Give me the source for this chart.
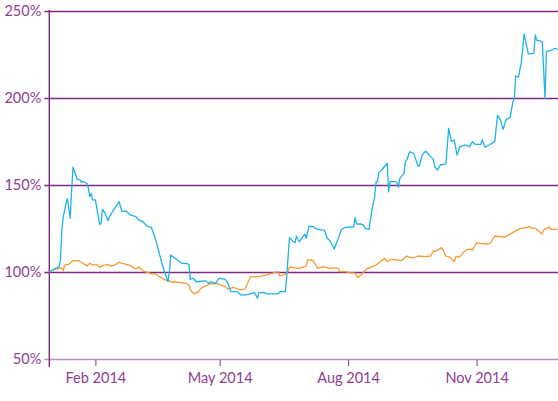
<!DOCTYPE html>
<html>
<head>
<meta charset="utf-8">
<script src="https://cdn.jsdelivr.net/npm/d3@7"></script>
<style>
  body { margin: 0; background: #fff; }
  #svg-container { width: 558px; height: 401px; }
  text { font-family: Lato, "Open Sans", sans-serif; }
</style>
</head>
<body>
<div id="svg-container"></div>
<script>
////////////////////////////////////////////////////////////////////
////////////////////////////  Data  ////////////////////////////////
const yTicks = [50, 100, 150, 200, 250];
const xTickDates = ["2014-02-01", "2014-05-01", "2014-08-01", "2014-11-01"];

// blue series
const blueDates = ["2013-12-30","2014-01-03","2014-01-06","2014-01-07","2014-01-08","2014-01-09","2014-01-11","2014-01-12","2014-01-14","2014-01-15","2014-01-16","2014-01-19","2014-01-21","2014-01-22","2014-01-23","2014-01-26","2014-01-27","2014-01-28","2014-01-29","2014-01-30","2014-02-01","2014-02-04","2014-02-05","2014-02-06","2014-02-08","2014-02-10","2014-02-11","2014-02-18","2014-02-20","2014-02-23","2014-02-26","2014-03-02","2014-03-04","2014-03-07","2014-03-10","2014-03-13","2014-03-16","2014-03-21","2014-03-23","2014-03-25","2014-03-26","2014-03-27","2014-03-30","2014-04-02","2014-04-04","2014-04-07","2014-04-09","2014-04-10","2014-04-12","2014-04-14","2014-04-21","2014-04-23","2014-04-25","2014-04-28","2014-04-30","2014-05-01","2014-05-05","2014-05-07","2014-05-09","2014-05-14","2014-05-16","2014-05-20","2014-05-26","2014-05-28","2014-05-29","2014-06-02","2014-06-04","2014-06-12","2014-06-13","2014-06-17","2014-06-18","2014-06-20","2014-06-22","2014-06-24","2014-06-25","2014-06-27","2014-07-01","2014-07-02","2014-07-04","2014-07-07","2014-07-10","2014-07-15","2014-07-17","2014-07-19","2014-07-22","2014-07-25","2014-07-27","2014-07-30","2014-08-05","2014-08-06","2014-08-07","2014-08-10","2014-08-12","2014-08-13","2014-08-16","2014-08-18","2014-08-20","2014-08-21","2014-08-22","2014-08-23","2014-08-25","2014-08-29","2014-08-30","2014-08-31","2014-09-04","2014-09-05","2014-09-06","2014-09-07","2014-09-10","2014-09-11","2014-09-12","2014-09-14","2014-09-17","2014-09-19","2014-09-20","2014-09-21","2014-09-23","2014-09-25","2014-09-26","2014-09-29","2014-10-01","2014-10-02","2014-10-04","2014-10-06","2014-10-10","2014-10-12","2014-10-14","2014-10-16","2014-10-18","2014-10-20","2014-10-24","2014-10-27","2014-10-29","2014-10-31","2014-11-04","2014-11-05","2014-11-07","2014-11-10","2014-11-14","2014-11-16","2014-11-18","2014-11-20","2014-11-22","2014-11-25","2014-11-27","2014-11-28","2014-11-29","2014-12-01","2014-12-03","2014-12-05","2014-12-08","2014-12-12","2014-12-13","2014-12-14","2014-12-18","2014-12-20","2014-12-21","2014-12-25","2014-12-27","2014-12-29"];
const blueValues = [100,101.9,102.9,106.9,124.1,131.8,139.5,142.1,130.9,147.1,160.2,153.3,152.9,151.6,152.1,151,148.1,143.3,145.2,141.4,141.4,127.6,127.6,136,133.7,129.5,131.8,140.4,134.7,135.1,132.8,131.8,129.9,128.9,126.4,125.7,119,104,99,94.4,100.2,109.8,107.9,106,105,105,104.4,95.8,96.4,94.4,94.9,93.5,94.4,93.5,95.8,96.4,95.8,93.5,88.7,88.7,86.8,86.8,88.1,84.9,88.1,88.1,87.4,87.4,88.7,88.7,97.3,119.9,118,116.8,120.7,117.4,121.8,119.4,126.4,126,124.5,124.1,119.4,118,113.2,119.4,124.1,125.7,126,131.2,127.6,127.6,127,125.1,124.5,135.6,143.3,151.9,151.9,157.1,158.6,162.5,146.1,151.9,151.9,151.3,148.7,153.8,156.7,163.4,164.4,169.1,168.2,163.4,160.9,160.9,167.2,169.1,169.1,166.3,164.8,160.5,158.6,161.5,162.1,182.6,174.9,175.9,167.2,172,173,172,174.9,173.4,173.4,175.9,171.7,173,174.9,190.2,187.4,182,187.4,188.9,197.9,199.3,212.6,212.2,220.3,236.8,225.3,225.7,236.2,233.3,232.4,199.8,226.6,227.6,228.6,228];

// orange series
const orangeDates = ["2013-12-30","2014-01-03","2014-01-08","2014-01-09","2014-01-10","2014-01-13","2014-01-16","2014-01-20","2014-01-25","2014-01-26","2014-01-28","2014-01-30","2014-02-02","2014-02-04","2014-02-07","2014-02-10","2014-02-12","2014-02-15","2014-02-18","2014-02-22","2014-02-26","2014-03-01","2014-03-03","2014-03-04","2014-03-07","2014-03-11","2014-03-13","2014-03-16","2014-03-18","2014-03-23","2014-03-26","2014-03-28","2014-03-29","2014-04-04","2014-04-07","2014-04-09","2014-04-10","2014-04-13","2014-04-16","2014-04-17","2014-04-19","2014-04-22","2014-04-24","2014-04-29","2014-05-02","2014-05-05","2014-05-07","2014-05-11","2014-05-14","2014-05-16","2014-05-19","2014-05-22","2014-05-23","2014-05-30","2014-06-12","2014-06-13","2014-06-17","2014-06-19","2014-06-20","2014-06-22","2014-06-26","2014-06-30","2014-07-02","2014-07-03","2014-07-06","2014-07-08","2014-07-10","2014-07-12","2014-07-15","2014-07-19","2014-07-23","2014-07-25","2014-07-26","2014-07-30","2014-08-02","2014-08-06","2014-08-08","2014-08-11","2014-08-14","2014-08-18","2014-08-21","2014-08-24","2014-08-27","2014-08-29","2014-09-01","2014-09-05","2014-09-08","2014-09-12","2014-09-14","2014-09-17","2014-09-20","2014-09-25","2014-09-29","2014-10-01","2014-10-02","2014-10-05","2014-10-07","2014-10-08","2014-10-10","2014-10-13","2014-10-16","2014-10-17","2014-10-20","2014-10-22","2014-10-25","2014-10-28","2014-10-29","2014-11-01","2014-11-04","2014-11-09","2014-11-11","2014-11-14","2014-11-18","2014-11-21","2014-11-25","2014-11-29","2014-12-02","2014-12-06","2014-12-09","2014-12-11","2014-12-13","2014-12-15","2014-12-18","2014-12-19","2014-12-21","2014-12-23","2014-12-24","2014-12-29"];
const orangeValues = [100,101.6,102.3,100.7,104,104.4,106.5,106.5,104,103.4,105,104,104.4,102.7,103.9,104.2,103.4,104,105.6,104.6,103.7,102.1,101.9,103,100.6,99.6,98.9,98.9,97.8,95.4,95,93.9,94.4,93.8,93.5,92.5,89.7,87.4,88.7,90.1,91.2,92.5,93.1,93.5,92.5,91.6,90.1,91.2,90.1,89.7,90.1,95.4,97.3,97.3,100.2,97.7,98.7,100.2,103,102.7,101.9,103,103.4,106.9,106.9,105.3,102.1,102.7,103,101.9,102.5,102.1,100.2,100.2,99.6,99.3,96.7,98.9,101.6,103,104,105.9,107.9,105.9,107.3,106.9,106.5,109.2,108.4,108.2,109.2,108.8,109.2,112.2,111.7,113,114,112.6,109.2,108.4,105.9,108.8,108.8,110.7,113,113,112.6,116.8,116.5,116.1,116.8,120.7,120.3,119.9,121.8,123.6,124.9,125.5,126,125.1,125.1,123.7,121.8,124.1,125.1,126,124.5,124.5];

////////////////////////////////////////////////////////////////////
////////////////////////////  Init  ////////////////////////////////
const width = 558;
const height = 401;
const margin = { top: 11, right: 0, bottom: 42, left: 49 };

const parseDate = d3.timeParse("%Y-%m-%d");
const formatXAxis = d3.timeFormat("%b %Y");

const svg = d3
  .select("#svg-container")
  .append("svg")
  .attr("width", width)
  .attr("height", height);

const blue = blueDates.map((d, i) => ({ date: parseDate(d), value: blueValues[i] }));
const orange = orangeDates.map((d, i) => ({ date: parseDate(d), value: orangeValues[i] }));

// scale
const xScale = d3
  .scaleUtc()
  .domain([parseDate("2013-12-30"), parseDate("2014-12-30")])
  .range([margin.left + 0.3, width + 1]);
const yScale = d3
  .scaleLinear()
  .domain([50, 250])
  .range([height - margin.bottom, margin.top]);

// grid lines (y axis)
const yAxis = d3
  .axisLeft(yScale)
  .tickValues(yTicks)
  .tickFormat((d) => d + "%")
  .tickSize(-(width - margin.left))
  .tickPadding(8);

const gy = svg
  .append("g")
  .attr("class", "y-axis")
  .attr("transform", `translate(${margin.left + 0.3},0)`)
  .call(yAxis);
gy.select(".domain").remove();
gy.selectAll(".tick line")
  .attr("x1", -5)
  .attr("stroke", (d) => (d === 50 ? "#b98cc0" : "#7d2a82"))
  .attr("stroke-width", 1.4);
gy.selectAll(".tick text")
  .attr("fill", "#8e3d93")
  .attr("font-size", "14.5px")
  .attr("x", -8);

// x axis ticks
const xAxis = d3
  .axisBottom(xScale)
  .tickValues(xTickDates.map(parseDate))
  .tickFormat(formatXAxis)
  .tickSize(6)
  .tickPadding(7);

const gx = svg
  .append("g")
  .attr("class", "x-axis")
  .attr("transform", `translate(0,${height - margin.bottom + 1})`)
  .call(xAxis);
gx.select(".domain").remove();
gx.selectAll(".tick line").attr("stroke", "#555").attr("stroke-width", 1);
gx.selectAll(".tick text")
  .attr("fill", "#8e3d93")
  .attr("font-size", "14.5px");

// vertical axis line
svg
  .append("line")
  .attr("x1", margin.left + 0.3)
  .attr("x2", margin.left + 0.3)
  .attr("y1", margin.top - 1)
  .attr("y2", height - margin.bottom + 8)
  .attr("stroke", "#7d2a82")
  .attr("stroke-width", 1.4);

// lines
const line = d3
  .line()
  .x((d) => xScale(d.date))
  .y((d) => yScale(d.value));

svg
  .append("path")
  .datum(orange)
  .attr("fill", "none")
  .attr("stroke", "#f79a33")
  .attr("stroke-width", 1.3)
  .attr("stroke-linejoin", "round")
  .attr("d", line);

svg
  .append("path")
  .datum(blue)
  .attr("fill", "none")
  .attr("stroke", "#1fb1ee")
  .attr("stroke-width", 1.3)
  .attr("stroke-linejoin", "round")
  .attr("d", line);
</script>
</body>
</html>
